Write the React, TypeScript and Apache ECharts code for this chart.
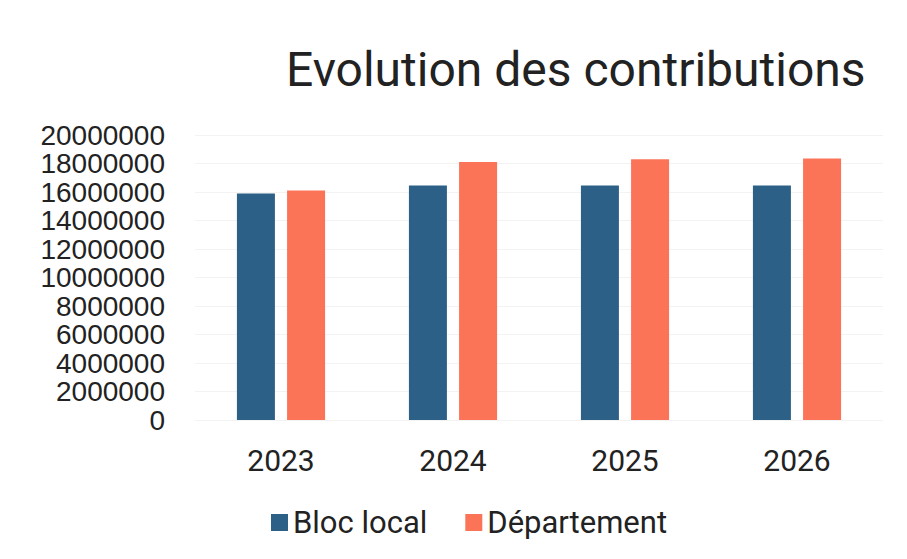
import React, { useEffect, useRef } from "react";
import * as echarts from "echarts";

const categories = ["2023", "2024", "2025", "2026"];
const blocLocal = [15900000, 16450000, 16450000, 16450000];
const departement = [16100000, 18100000, 18300000, 18350000];
const seriesNames = ["Bloc local", "Département"];

export default function App() {
  const ref = useRef<HTMLDivElement>(null);
  useEffect(() => {
    const chart = echarts.init(ref.current!, null, { renderer: "svg" });
    chart.setOption({
      animation: false,
      backgroundColor: "#ffffff",
      title: {
        text: "Evolution des contributions",
        left: 281,
        top: 40,
        textStyle: { fontFamily: "Roboto", fontSize: 48, fontWeight: "normal", color: "#222" },
      },
      legend: {
        data: seriesNames,
        left: 266,
        top: 502,
        itemWidth: 17,
        itemHeight: 17,
        itemGap: 38,
        icon: "rect",
        textStyle: { fontFamily: "Roboto", fontSize: 31, color: "#222" },
      },
      grid: { left: 195, right: 24, top: 135, bottom: 139, containLabel: false },
      xAxis: {
        type: "category",
        data: categories,
        axisLine: { show: false },
        axisTick: { show: false },
        axisLabel: { fontFamily: "Roboto", fontSize: 30, color: "#222", margin: 25 },
      },
      yAxis: {
        type: "value",
        min: 0,
        max: 20000000,
        interval: 2000000,
        axisLine: { show: false },
        axisTick: { show: false },
        splitLine: { show: true, lineStyle: { color: "#f3f3f3" } },
        axisLabel: {
          fontFamily: "Liberation Sans",
          fontSize: 28,
          color: "#222",
          margin: 30,
          formatter: (v: number) => String(v),
        },
      },
      series: [
        {
          name: seriesNames[0],
          type: "bar",
          data: blocLocal,
          barWidth: 38,
          barGap: "32%",
          itemStyle: { color: "#2c6086" },
        },
        {
          name: seriesNames[1],
          type: "bar",
          data: departement,
          barWidth: 38,
          itemStyle: { color: "#fb7457" },
        },
      ],
    });
    return () => chart.dispose();
  }, []);
  return <div ref={ref} style={{ position: "absolute", left: 0, top: 0, width: 907, height: 559 }} />;
}
